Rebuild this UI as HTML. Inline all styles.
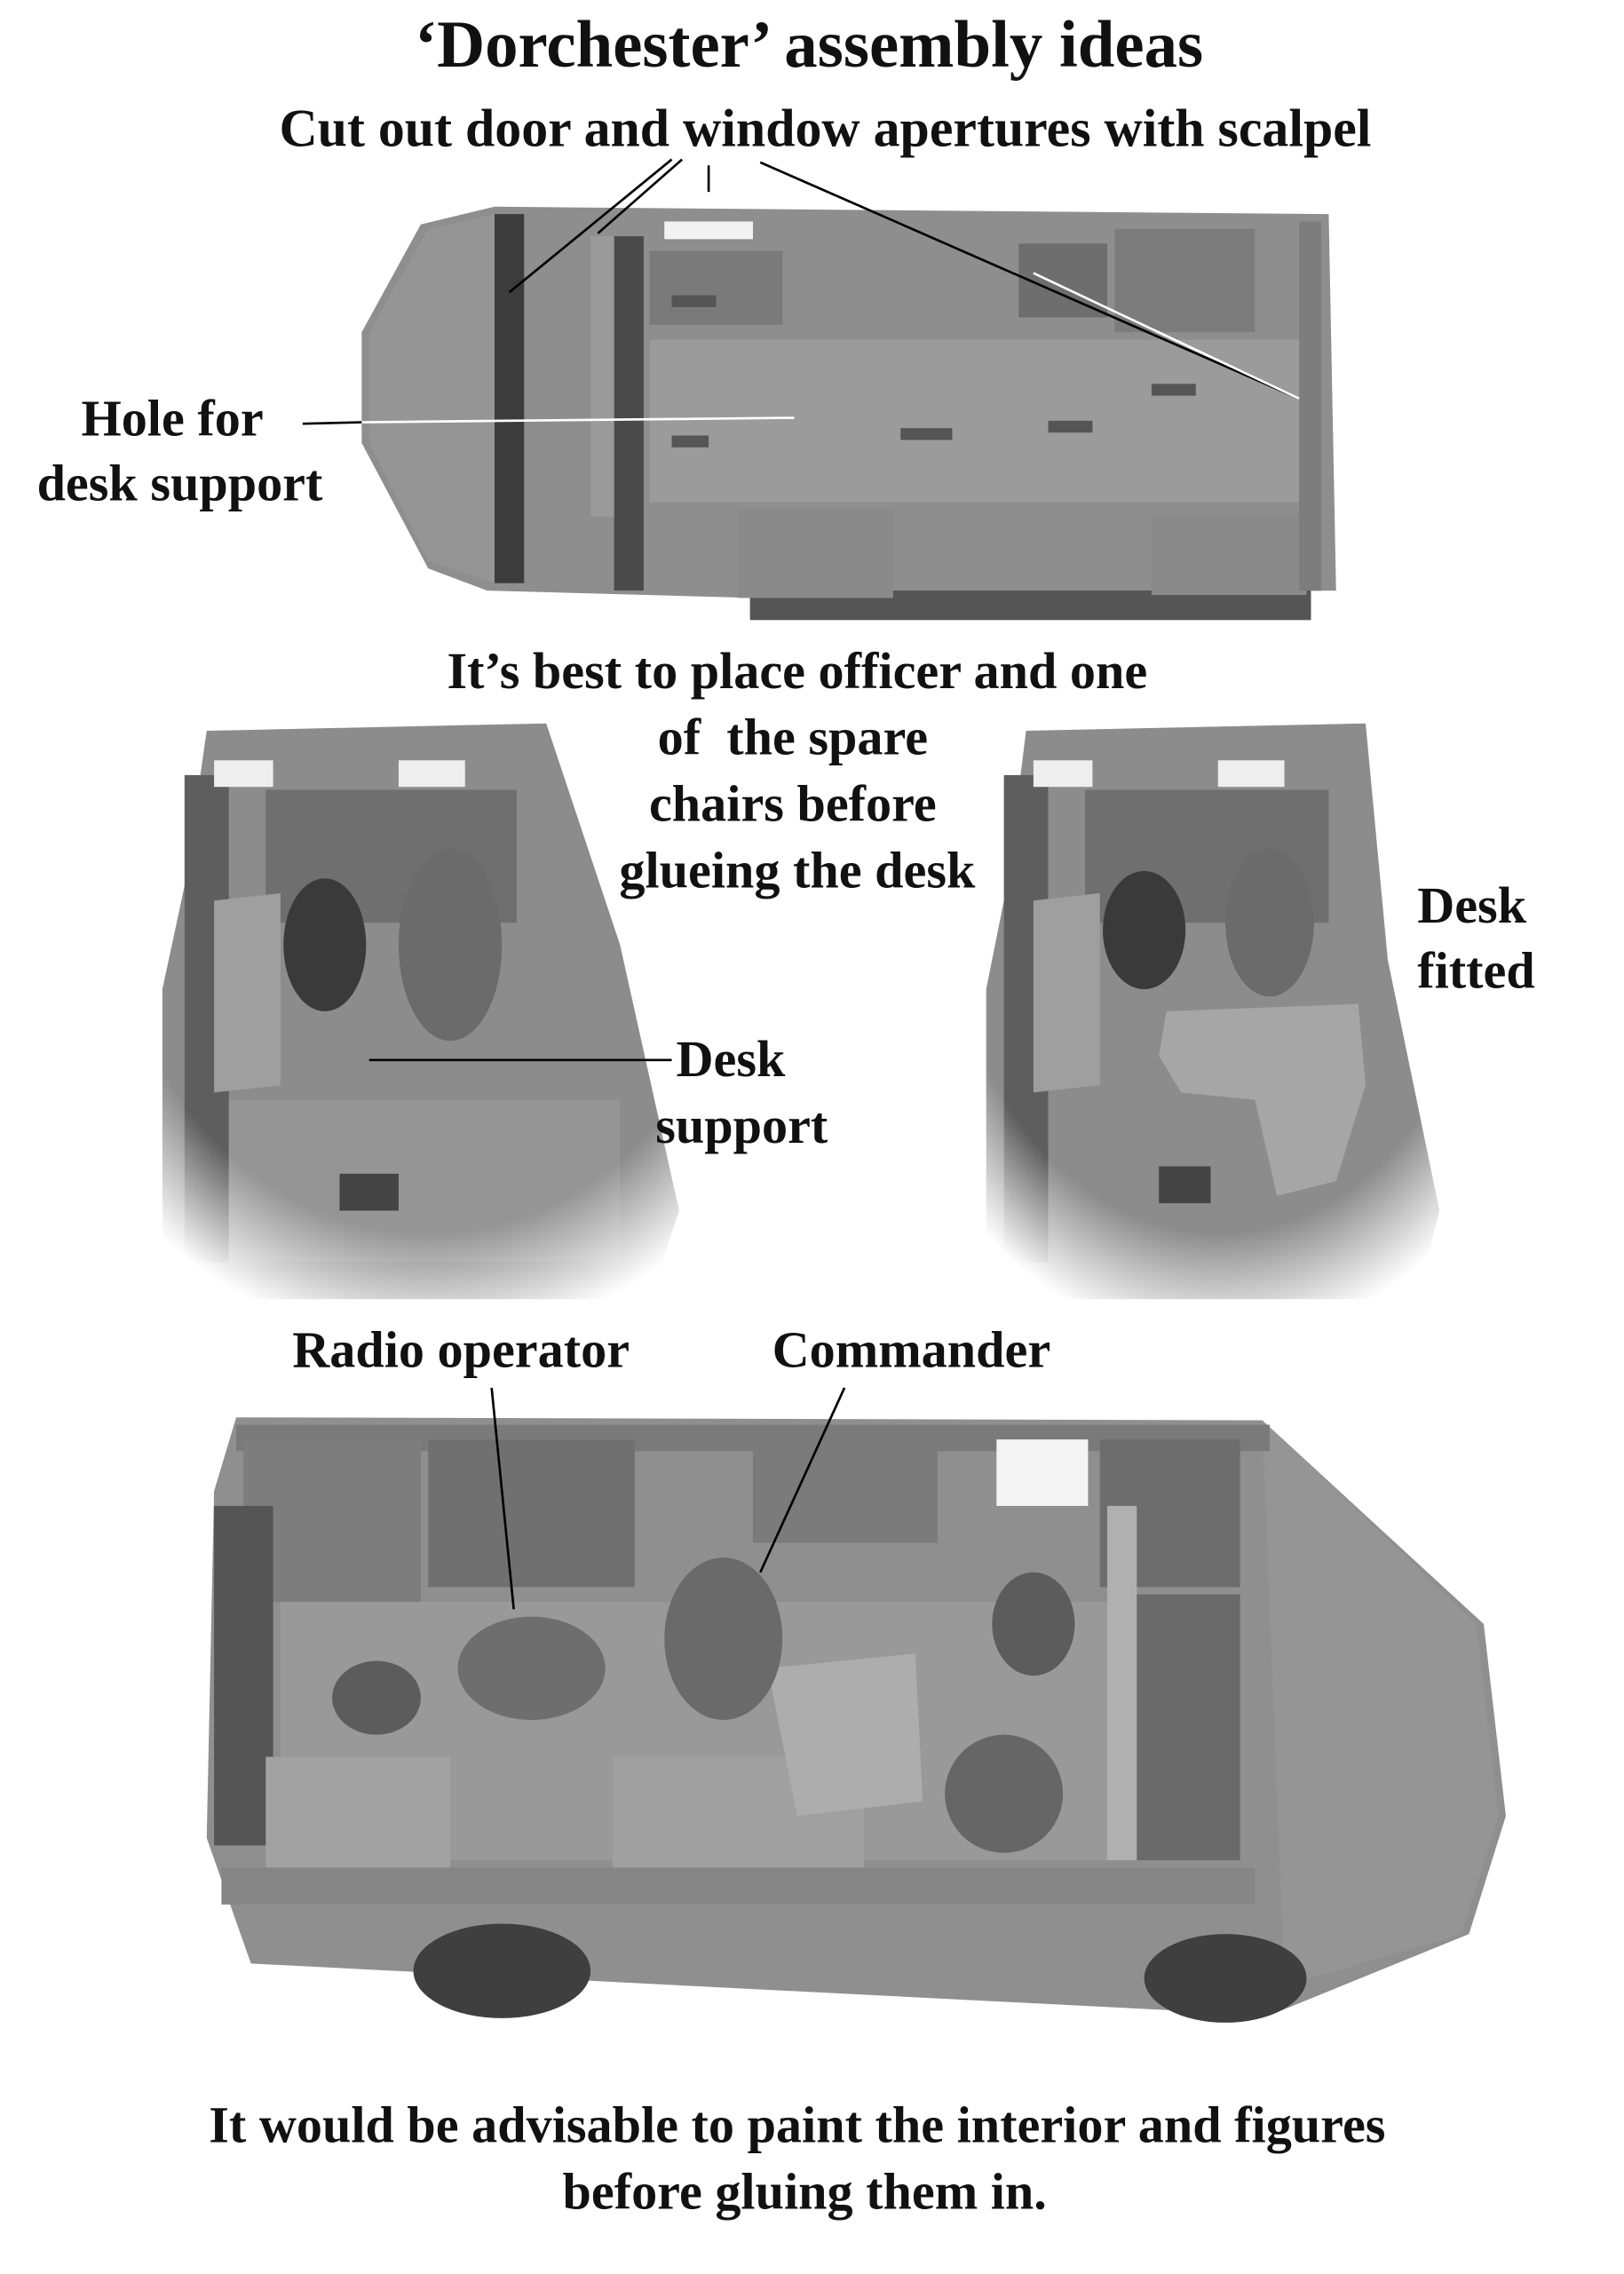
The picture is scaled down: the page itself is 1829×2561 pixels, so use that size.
<!DOCTYPE html>
<html><head><meta charset="utf-8"><style>
html,body{margin:0;padding:0;background:#fff;}
body{width:1829px;height:2560px;overflow:hidden;position:relative;}
#w{position:absolute;left:0;top:0;width:1100px;height:1540px;transform:scale(1.6627);transform-origin:0 0;}
.t{position:absolute;font-family:"Liberation Serif",serif;font-weight:bold;color:#111;white-space:nowrap;font-size:35px;line-height:1;}
.c{transform:translateX(-50%);}
svg{position:absolute;left:0;top:0;}
</style></head><body><div id="w">
<svg width="1100" height="1540" viewBox="0 0 1100 1540">
<defs>
<radialGradient id="fade" cx="0.5" cy="0.3" r="0.75"><stop offset="0.75" stop-color="#fff" stop-opacity="0"/><stop offset="1" stop-color="#fff" stop-opacity="1"/></radialGradient>
</defs>
<polygon points="285,152 335,140 900,145 905,400 510,405 330,400 290,385 245,300 245,225" fill="#8e8e8e"/>
<rect x="508" y="400" width="380" height="20" fill="#555"/>
<polygon points="290,155 335,145 335,395 290,380 250,300 250,225" fill="#959595"/>
<rect x="335" y="145" width="20" height="250" fill="#3c3c3c"/>
<rect x="400" y="160" width="16" height="190" fill="#9a9a9a"/>
<rect x="416" y="160" width="20" height="240" fill="#4a4a4a"/>
<rect x="440" y="230" width="440" height="110" fill="#9b9b9b"/>
<rect x="440" y="170" width="90" height="50" fill="#7a7a7a"/>
<rect x="450" y="150" width="60" height="12" fill="#f2f2f2"/>
<rect x="755" y="155" width="95" height="70" fill="#7c7c7c"/>
<rect x="690" y="165" width="60" height="50" fill="#6e6e6e"/>
<rect x="500" y="345" width="105" height="60" fill="#8a8a8a"/>
<rect x="780" y="348" width="105" height="55" fill="#8a8a8a"/>
<rect x="880" y="150" width="15" height="250" fill="#7d7d7d"/>
<g fill="#555"><rect x="455" y="200" width="30" height="8"/><rect x="455" y="295" width="25" height="8"/><rect x="610" y="290" width="35" height="8"/><rect x="710" y="285" width="30" height="8"/><rect x="780" y="260" width="30" height="8"/></g>
<polygon points="140,495 370,490 420,640 460,820 440,880 140,880 110,860 110,670 125,600" fill="#8c8c8c"/>
<rect x="125" y="525" width="30" height="330" fill="#5e5e5e"/>
<rect x="180" y="535" width="170" height="90" fill="#6f6f6f"/>
<rect x="145" y="515" width="40" height="18" fill="#eee"/><rect x="270" y="515" width="45" height="18" fill="#eee"/>
<polygon points="145,610 190,605 190,735 145,740" fill="#9f9f9f"/>
<ellipse cx="220" cy="640" rx="28" ry="45" fill="#3a3a3a"/>
<ellipse cx="305" cy="640" rx="35" ry="65" fill="#6b6b6b"/>
<rect x="155" y="745" width="265" height="110" fill="#959595"/>
<rect x="230" y="795" width="40" height="25" fill="#444"/>
<rect x="105" y="490" width="370" height="400" fill="url(#fade)"/>
<polygon points="695,495 925,490 940,650 975,820 960,880 695,880 668,860 668,670 682,600" fill="#8c8c8c"/>
<rect x="680" y="525" width="30" height="330" fill="#5e5e5e"/>
<rect x="735" y="535" width="165" height="90" fill="#6f6f6f"/>
<rect x="700" y="515" width="40" height="18" fill="#eee"/><rect x="825" y="515" width="45" height="18" fill="#eee"/>
<polygon points="700,610 745,605 745,735 700,740" fill="#9f9f9f"/>
<ellipse cx="775" cy="630" rx="28" ry="40" fill="#3a3a3a"/>
<ellipse cx="860" cy="625" rx="30" ry="50" fill="#6b6b6b"/>
<polygon points="790,685 920,680 925,735 905,800 865,810 850,745 800,740 785,715" fill="#a6a6a6"/>
<rect x="785" y="790" width="35" height="25" fill="#444"/>
<rect x="665" y="490" width="320" height="400" fill="url(#fade)"/>
<polygon points="160,960 855,962 1005,1100 1020,1230 995,1310 860,1365 170,1330 140,1245 145,1010" fill="#8f8f8f"/>
<polygon points="855,962 1000,1100 1015,1230 990,1310 870,1345" fill="#959595"/>
<rect x="160" y="965" width="700" height="18" fill="#7a7a7a"/>
<rect x="165" y="975" width="120" height="110" fill="#7d7d7d"/>
<rect x="290" y="975" width="140" height="100" fill="#707070"/>
<rect x="510" y="975" width="125" height="70" fill="#7b7b7b"/>
<rect x="675" y="975" width="62" height="45" fill="#f4f4f4"/>
<rect x="745" y="975" width="95" height="100" fill="#6d6d6d"/>
<rect x="190" y="1085" width="560" height="175" fill="#999"/>
<rect x="145" y="1020" width="40" height="230" fill="#555"/>
<rect x="750" y="1020" width="20" height="240" fill="#b0b0b0"/>
<rect x="770" y="1080" width="70" height="180" fill="#6a6a6a"/>
<rect x="180" y="1190" width="125" height="80" fill="#a2a2a2"/>
<rect x="415" y="1190" width="170" height="90" fill="#a0a0a0"/>
<polygon points="520,1130 620,1120 625,1220 540,1230" fill="#adadad"/>
<ellipse cx="360" cy="1130" rx="50" ry="35" fill="#6e6e6e"/>
<ellipse cx="490" cy="1110" rx="40" ry="55" fill="#6a6a6a"/>
<ellipse cx="680" cy="1215" rx="40" ry="40" fill="#666"/>
<ellipse cx="700" cy="1100" rx="28" ry="35" fill="#5c5c5c"/>
<ellipse cx="255" cy="1150" rx="30" ry="25" fill="#5c5c5c"/>
<rect x="150" y="1265" width="700" height="25" fill="#858585"/>
<ellipse cx="340" cy="1335" rx="60" ry="32" fill="#3f3f3f"/>
<ellipse cx="830" cy="1340" rx="55" ry="30" fill="#3f3f3f"/>
<g stroke="#000" stroke-width="1.6" fill="none">
<line x1="455" y1="108" x2="345" y2="198"/>
<line x1="462" y1="108" x2="405" y2="158"/>
<line x1="480" y1="112" x2="480" y2="130"/>
<line x1="515" y1="110" x2="880" y2="270"/>
<line x1="205" y1="287" x2="245" y2="286"/>
<line x1="250" y1="718" x2="455" y2="718"/>
<line x1="333" y1="940" x2="348" y2="1090"/>
<line x1="572" y1="940" x2="515" y2="1065"/>
</g>
<g stroke="#fff" stroke-width="1.6"><line x1="245" y1="286" x2="538" y2="283"/><line x1="700" y1="185" x2="880" y2="270"/></g>
</svg>
<div class="t c" style="left:548px;top:8px;font-size:45px">‘Dorchester’ assembly ideas</div>
<div class="t c" style="left:559px;top:69px;font-size:36px">Cut out door and window apertures with scalpel</div>
<div class="t" style="left:55px;top:266px">Hole for</div>
<div class="t" style="left:25px;top:310px">desk support</div>
<div class="t c" style="left:540px;top:437px">It’s best to place officer and one</div>
<div class="t c" style="left:537px;top:482px">of&nbsp; the spare</div>
<div class="t c" style="left:537px;top:527px">chairs before</div>
<div class="t c" style="left:540px;top:572px">glueing the desk</div>
<div class="t" style="left:960px;top:596px">Desk</div>
<div class="t" style="left:960px;top:640px">fitted</div>
<div class="t" style="left:458px;top:700px">Desk</div>
<div class="t" style="left:444px;top:745px">support</div>
<div class="t" style="left:198px;top:897px">Radio operator</div>
<div class="t" style="left:523px;top:897px">Commander</div>
<div class="t c" style="left:540px;top:1422px">It would be advisable to paint the interior and figures</div>
<div class="t c" style="left:545px;top:1467px">before gluing them in.</div>
</div></body></html>
